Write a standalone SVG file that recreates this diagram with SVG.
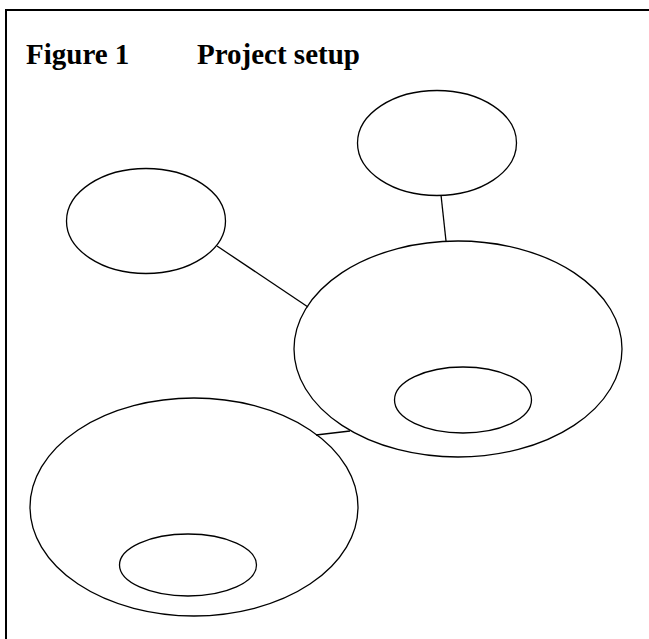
<svg xmlns="http://www.w3.org/2000/svg" width="649" height="639" viewBox="0 0 649 639">
  <style>
    .node { fill: none; stroke: #000; stroke-width: 1.3; }
    .link { stroke: #000; stroke-width: 1.3; fill: none; }
    .frame { fill: none; stroke: #000; stroke-width: 2; }
    .title { font-family: "Liberation Serif", "Times New Roman", serif; font-weight: bold; font-size: 29px; fill: #000; }
  </style>
  <rect width="649" height="639" fill="#fff"/>
  <!-- outer frame: open at right and bottom -->
  <path class="frame" d="M6,639 V10 H649"/>
  <text class="title" x="26" y="64">Figure 1</text>
  <text class="title" x="197" y="64">Project setup</text>
  <g id="connectors">
    <line class="link" x1="441" y1="195" x2="446" y2="241"/>
    <line class="link" x1="217" y1="246" x2="308" y2="307"/>
    <line class="link" x1="316" y1="435" x2="350" y2="431"/>
  </g>
  <g id="node-left">
    <ellipse class="node" cx="146" cy="221" rx="79.5" ry="52.5"/>
  </g>
  <g id="node-top">
    <ellipse class="node" cx="437" cy="143" rx="79.5" ry="52.5"/>
  </g>
  <g id="node-main">
    <ellipse class="node" cx="458" cy="349" rx="164" ry="108"/>
    <ellipse class="node" cx="463" cy="400" rx="68.5" ry="33"/>
  </g>
  <g id="node-lower">
    <ellipse class="node" cx="194" cy="507" rx="164" ry="109"/>
    <ellipse class="node" cx="188" cy="565" rx="68.5" ry="31"/>
  </g>
</svg>
